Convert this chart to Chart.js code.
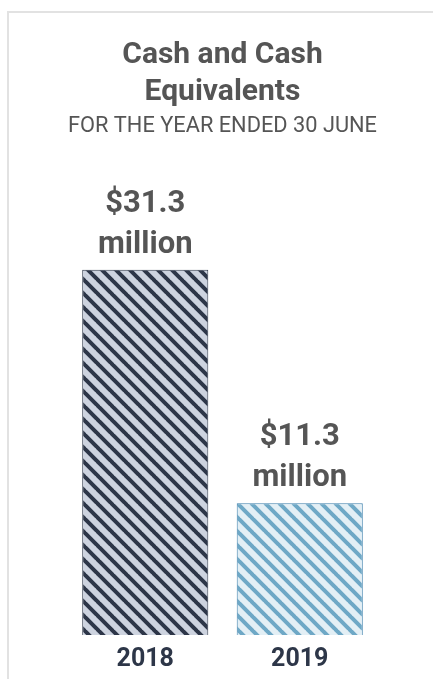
<!DOCTYPE html>
<html>
<head>
<meta charset="utf-8">
<script src="https://cdn.jsdelivr.net/npm/chart.js@4.4.0/dist/chart.umd.min.js"></script>
<style>
  html, body { margin: 0; padding: 0; background: #fff; overflow: hidden; }
  #card {
    position: absolute; left: 7px; top: 11px; width: 460px; height: 700px;
    border-left: 2px solid #e2e2e2; border-top: 2px solid #e2e2e2;
  }
  #wrap { position: absolute; left: 0; top: 0; width: 433px; height: 692px; }
</style>
</head>
<body>
<div id="card"></div>
<div id="wrap"><canvas id="cashChart"></canvas></div>
<script>
const years = ['2018', '2019'];
const cashMillions = [31.3, 11.3];
const valueLabels = [['$31.3', 'million'], ['$11.3', 'million']];

// diagonal hatch fill, stripes running down to the right
function stripes(bg, fg) {
  const s = 14;
  const c = document.createElement('canvas');
  c.width = s; c.height = s;
  const ctx = c.getContext('2d');
  ctx.fillStyle = bg;
  ctx.fillRect(0, 0, s, s);
  ctx.strokeStyle = fg;
  ctx.lineWidth = 4;
  ctx.beginPath();
  for (let k = -1; k <= 1; k++) {
    ctx.moveTo(k * s - 1, -1);
    ctx.lineTo(k * s + s + 1, s + 1);
  }
  ctx.stroke();
  return ctx.createPattern(c, 'repeat');
}

const barLabels = {
  id: 'barLabels',
  afterDatasetsDraw(chart) {
    const ctx = chart.ctx;
    const meta = chart.getDatasetMeta(0);
    ctx.save();
    ctx.fillStyle = '#555555';
    ctx.font = 'bold 31px Roboto';
    ctx.textAlign = 'center';
    ctx.textBaseline = 'alphabetic';
    meta.data.forEach((bar, i) => {
      const lines = valueLabels[i];
      ctx.fillText(lines[1], bar.x, bar.y - 17);
      ctx.fillText(lines[0], bar.x, bar.y - 58);
    });
    ctx.restore();
  }
};

const data = {
  labels: years,
  datasets: [
    {
      label: 'Cash and Cash Equivalents',
      data: cashMillions,
      backgroundColor: [stripes('#cdd3df', '#2d3648'), stripes('#e3eff5', '#6ea8c6')],
      borderColor: ['#2d3648', '#3f80ad'],
      borderWidth: 1,
      barPercentage: 0.816,
      categoryPercentage: 1
    }
  ]
};

const config = {
  type: 'bar',
  data: data,
  plugins: [barLabels],
  options: {
    responsive: false,
    animation: false,
    layout: { padding: { left: 68, right: 56, top: 0, bottom: 7 } },
    plugins: {
      legend: { display: false },
      tooltip: { enabled: false },
      title: {
        display: true,
        text: ['Cash and Cash', 'Equivalents'],
        color: '#555555',
        font: { family: 'Roboto', size: 30, weight: 'bold', lineHeight: 1.233 },
        padding: { top: 37, bottom: 0 }
      },
      subtitle: {
        display: true,
        text: 'FOR THE YEAR ENDED 30 JUNE',
        color: '#555555',
        font: { family: 'Roboto', size: 22, weight: 'normal', lineHeight: 1.2 },
        padding: { top: 2, bottom: 29 }
      }
    },
    scales: {
      x: {
        grid: { display: false, drawTicks: false },
        border: { display: false },
        ticks: {
          color: '#2d3648',
          padding: 10,
          font: { family: 'Roboto', size: 25, weight: 'bold', lineHeight: 1.2 }
        }
      },
      y: {
        display: false,
        min: 0,
        max: 40
      }
    }
  }
};

const cv = document.getElementById('cashChart');
cv.width = 433; cv.height = 692;
window.cashChart = new Chart(cv, config);
</script>
</body>
</html>
